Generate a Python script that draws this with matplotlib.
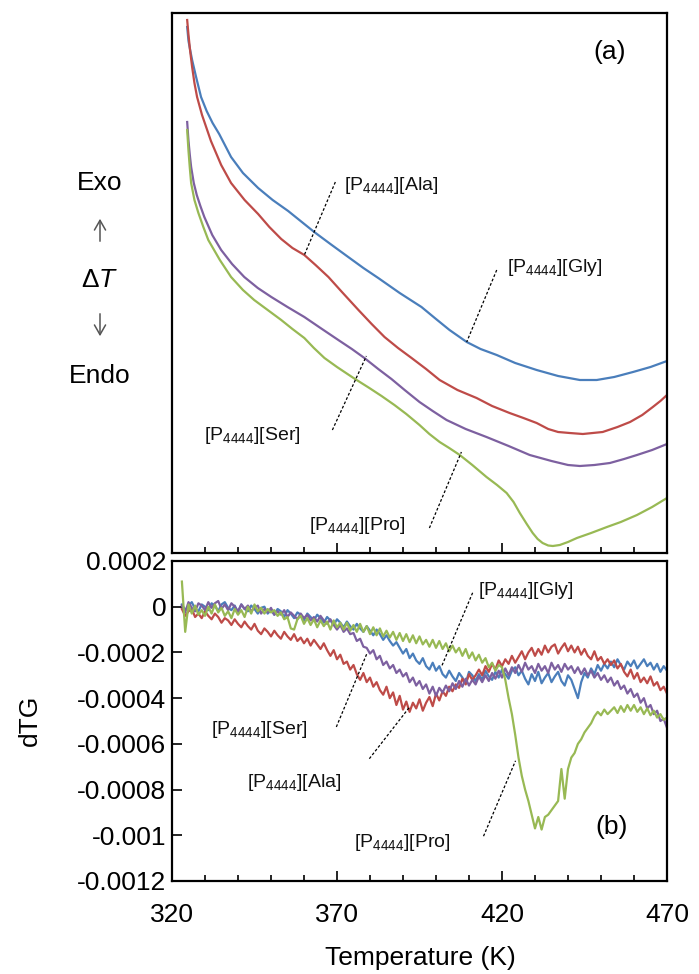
import numpy as np
import matplotlib
matplotlib.use("Agg")
import matplotlib.pyplot as plt
from matplotlib.patches import FancyArrowPatch

plt.rcParams['font.family'] = ['Liberation Sans', 'DejaVu Sans']
plt.rcParams['mathtext.fontset'] = 'custom'
plt.rcParams['mathtext.rm'] = 'Liberation Sans'
plt.rcParams['mathtext.it'] = 'Liberation Sans:italic'
plt.rcParams['mathtext.bf'] = 'Liberation Sans:bold'

# ---- (a) DTA curves, arbitrary delta-T units ----
t_gly_a = [324.6, 325.0, 325.5, 326.1, 327.3, 328.8, 330.5, 332.3, 334.3, 337.9, 341.5, 346.1,
           350.5, 355.2, 363.1, 368.0, 373.4, 378.0, 382.5, 389.0, 395.6, 400.0, 404.1, 409.3,
           413.5, 418.4, 424.0, 430.5, 437.0, 443.6, 448.7, 454.0, 459.7, 465.0, 470.0]
v_gly_a = [52.6, 51.2, 50.3, 49.3, 47.6, 45.6, 44.2, 43.0, 41.9, 39.6, 38.0, 36.5,
           35.3, 34.2, 32.1, 30.9, 29.6, 28.5, 27.5, 26.0, 24.6, 23.4, 22.3, 21.1,
           20.4, 19.8, 19.0, 18.3, 17.7, 17.3, 17.3, 17.6, 18.1, 18.6, 19.2]

t_ala_a = [324.6, 325.0, 325.5, 326.1, 326.8, 327.6, 329.1, 331.8, 334.9, 337.9, 342.0, 346.1,
           349.5, 353.1, 356.5, 360.1, 363.5, 367.4, 371.5, 376.5, 380.5, 384.4, 388.5, 392.6,
           397.0, 401.1, 406.5, 412.3, 417.0, 422.3, 426.5, 430.5, 434.0, 437.0, 440.5, 444.5,
           447.5, 450.5, 455.0, 458.8, 462.5, 465.7, 468.0, 470.0]
v_ala_a = [53.3, 51.8, 50.2, 48.6, 47.0, 45.6, 43.8, 41.2, 38.8, 37.0, 35.3, 33.9,
           32.6, 31.4, 30.5, 29.8, 28.8, 27.6, 26.1, 24.3, 22.9, 21.6, 20.5, 19.5,
           18.4, 17.3, 16.3, 15.5, 14.7, 14.0, 13.5, 13.0, 12.4, 12.1, 12.0, 11.9,
           12.0, 12.1, 12.6, 13.1, 13.8, 14.6, 15.2, 15.8]

t_ser_a = [324.6, 325.0, 325.4, 325.8, 326.6, 327.5, 328.6, 329.8, 332.2, 334.9, 338.2, 341.9,
           346.0, 350.1, 355.0, 360.1, 365.0, 370.4, 374.5, 378.3, 382.5, 386.5, 390.5, 395.0,
           399.0, 403.2, 409.0, 415.3, 422.0, 428.4, 435.0, 440.0, 443.6, 448.0, 452.7, 457.0,
           460.9, 465.5, 470.0]
v_ser_a = [43.1, 41.2, 39.8, 38.6, 37.0, 35.8, 34.7, 33.6, 31.8, 30.3, 28.9, 27.6,
           26.5, 25.6, 24.6, 23.6, 22.5, 21.3, 20.4, 19.5, 18.4, 17.4, 16.3, 15.1,
           14.2, 13.3, 12.4, 11.6, 10.7, 9.8, 9.2, 8.8, 8.7, 8.8, 9.0, 9.4,
           9.8, 10.3, 10.9]

t_pro_a = [324.6, 325.0, 325.4, 325.8, 326.8, 328.0, 329.5, 331.0, 334.5, 337.9, 341.5, 344.9,
           349.0, 353.1, 356.5, 360.1, 363.0, 366.2, 370.0, 375.0, 379.8, 383.5, 387.4, 391.0,
           395.0, 398.0, 401.1, 404.0, 407.2, 411.0, 415.3, 418.5, 421.4, 423.5, 425.4, 427.5,
           429.3, 430.8, 432.3, 434.0, 435.4, 437.5, 440.0, 442.7, 447.0, 451.8, 456.0, 460.9,
           465.5, 470.0]
v_pro_a = [42.3, 40.2, 38.5, 37.0, 35.3, 34.0, 32.6, 31.3, 29.3, 27.6, 26.3, 25.3,
           24.3, 23.3, 22.4, 21.5, 20.5, 19.5, 18.6, 17.5, 16.5, 15.7, 14.8, 13.9,
           12.8, 11.9, 11.1, 10.5, 9.8, 8.8, 7.6, 6.8, 6.0, 5.1, 4.0, 2.9,
           2.0, 1.4, 1.0, 0.75, 0.7, 0.8, 1.1, 1.5, 2.0, 2.6, 3.1, 3.8,
           4.6, 5.5]

# ---- (b) dTG curves, in units of 1e-4, one value per kelvin from 323 K ----
t_b = np.arange(323, 471)

dtg_gly = [0.1, -0.15, 0.05, 0.2, -0.1, -0.2, 0.1, 0.0, -0.15, 0.15,
           0.05, -0.2, 0.1, 0.2, -0.05, -0.15, 0.05, -0.25, 0.1, -0.1,
           -0.2, 0.05, -0.1, -0.3, -0.05, 0.0, -0.3, -0.15, -0.35, -0.1,
           -0.2, -0.45, -0.15, -0.3, -0.5, -0.25, -0.35, -0.6, -0.3, -0.45,
           -0.6, -0.35, -0.5, -0.7, -0.45, -0.6, -0.8, -0.55, -0.7, -0.9,
           -0.65, -0.85, -1.0, -0.75, -0.95, -1.1, -0.85, -1.05, -1.25, -1.0,
           -1.2, -1.45, -1.25, -1.5, -1.7, -1.55, -1.8, -2.05, -1.85, -2.25,
           -2.05, -2.35, -2.5, -2.25, -2.6, -2.75, -2.45, -2.8, -2.6, -2.95,
           -3.1, -2.8, -3.05, -3.25, -2.9, -3.1, -3.35, -2.85, -3.0, -3.25,
           -2.95, -3.2, -2.8, -3.05, -3.2, -2.85, -3.1, -2.75, -2.95, -3.15,
           -2.8, -2.65, -3.0, -2.8, -3.15, -3.4, -2.95, -3.25, -2.85, -3.35,
           -3.1, -2.9, -3.3, -3.05, -2.85, -3.25, -3.45, -3.0, -3.2, -3.6,
           -4.0, -3.3, -2.9, -3.1, -2.7, -2.95, -2.55, -2.8, -2.5, -2.7,
           -2.4, -2.65, -2.3, -2.55, -2.75, -2.4, -2.6, -2.35, -2.7, -2.5,
           -2.3, -2.6, -2.45, -2.75, -2.5, -2.85, -2.6, -2.8]

dtg_ala = [-0.1, -0.4, -0.2, -0.1, -0.45, -0.3, -0.5, -0.2, -0.4, -0.55,
           -0.3, -0.45, -0.7, -0.5, -0.6, -0.8, -0.55, -0.75, -0.9, -0.65,
           -0.85, -1.0, -0.75, -1.05, -1.2, -0.95, -1.1, -1.3, -1.05, -1.25,
           -1.4, -1.1, -1.3, -1.45, -1.2, -1.5, -1.35, -1.6, -1.4, -1.7,
           -1.45, -1.65, -1.85, -1.6, -1.9, -2.15, -1.9, -2.3, -2.1, -2.5,
           -2.4, -2.75, -2.55, -2.95, -3.2, -2.9, -3.3, -3.1, -3.5, -3.3,
           -3.65, -3.85, -3.5, -4.0, -3.75, -4.3, -3.9, -4.5, -4.15, -4.6,
           -4.2, -4.45, -4.05, -4.55, -4.2, -3.95, -4.35, -3.8, -4.1, -3.7,
           -3.9, -3.5, -3.7, -3.4, -3.55, -3.15, -3.4, -2.95, -3.2, -3.0,
           -2.75, -3.0, -2.6, -2.85, -2.5, -2.75, -2.35, -2.6, -2.3, -2.5,
           -2.15, -2.45, -2.2, -1.95, -2.3, -2.0, -1.8, -2.15, -1.85, -2.1,
           -1.7, -2.0, -1.75, -1.65, -2.05, -1.8, -1.6, -1.95, -1.7, -2.0,
           -1.75, -2.1, -1.85, -2.15, -2.3, -1.95, -2.35, -2.2, -2.5, -2.3,
           -2.55, -2.35, -2.7, -2.5, -2.85, -3.05, -2.75, -3.15, -2.9, -3.3,
           -3.1, -3.35, -3.05, -3.45, -3.3, -3.65, -3.5, -3.8]

dtg_ser = [0.05, -0.25, 0.2, -0.05, -0.2, 0.15, 0.05, -0.15, 0.2, -0.05,
           0.15, 0.25, -0.1, 0.1, -0.15, 0.15, 0.0, -0.2, 0.1, -0.1,
           0.05, -0.2, -0.05, 0.05, -0.3, -0.1, -0.25, -0.05, -0.35, -0.2,
           -0.35, -0.15, -0.45, -0.25, -0.4, -0.55, -0.3, -0.5, -0.35, -0.6,
           -0.45, -0.65, -0.4, -0.6, -0.75, -0.55, -0.8, -1.0, -0.8, -1.1,
           -0.95, -1.2, -1.15, -1.5, -1.4, -1.75, -1.8, -2.05, -1.9, -2.3,
           -2.15, -2.55, -2.4, -2.7, -2.55, -2.9, -2.75, -3.05, -2.9, -3.3,
           -3.1, -3.45, -3.25, -3.6, -3.4, -3.8, -3.5, -3.9, -3.55, -3.75,
           -3.45, -3.7, -3.35, -3.6, -3.25, -3.5, -3.15, -3.45, -3.2, -3.4,
           -3.05, -3.3, -3.0, -3.25, -2.9, -3.15, -2.8, -3.1, -2.7, -3.0,
           -2.65, -2.9, -2.55, -2.85, -2.45, -2.75, -2.6, -2.9, -2.5, -2.8,
           -2.6, -2.9, -2.45, -2.75, -2.55, -2.85, -2.5, -2.75, -2.6, -2.9,
           -2.65, -2.95, -2.7, -3.0, -2.8, -3.1, -2.9, -3.2, -3.0, -3.3,
           -3.1, -3.45, -3.25, -3.6, -3.45, -3.8, -3.6, -3.95, -3.8, -4.2,
           -4.0, -4.45, -4.3, -4.7, -4.55, -5.0, -4.9, -5.3]

dtg_pro = [1.1, -1.1, 0.1, -0.3, 0.05, -0.35, -0.15, -0.4, 0.0, -0.3,
           0.1, -0.25, -0.05, -0.4, -0.2, -0.5, -0.1, -0.35, -0.15, -0.45,
           0.0, -0.3, 0.1, -0.2, -0.05, -0.3, -0.1, -0.25, -0.15, -0.4,
           -0.25, -0.55, -0.45, -0.95, -1.0, -0.55, -0.4, -0.75, -0.5, -0.8,
           -0.55, -0.9, -0.6, -0.85, -0.65, -1.0, -0.6, -0.9, -0.7, -1.0,
           -0.7, -1.05, -0.8, -1.1, -0.75, -1.1, -0.85, -1.2, -0.9, -1.25,
           -0.95, -1.3, -1.05, -1.35, -1.1, -1.45, -1.15, -1.5, -1.2, -1.55,
           -1.25, -1.6, -1.3, -1.65, -1.45, -1.75, -1.45, -1.8, -1.5, -1.85,
           -1.6, -1.95, -1.7, -2.0, -1.8, -2.15, -1.85, -2.25, -2.0, -2.35,
           -2.1, -2.45, -2.25, -2.65, -2.45, -2.8, -2.55, -2.65, -3.2, -4.0,
           -4.7, -5.6, -6.6, -7.4, -8.0, -8.5, -9.1, -9.7, -9.2, -9.75,
           -9.2, -9.1, -8.9, -8.7, -8.5, -7.1, -8.4, -7.1, -6.6, -6.4,
           -6.0, -5.8, -5.5, -5.3, -5.1, -4.8, -4.6, -4.75, -4.5, -4.7,
           -4.55, -4.4, -4.65, -4.35, -4.6, -4.3, -4.55, -4.3, -4.6, -4.4,
           -4.7, -4.45, -4.75, -4.55, -4.85, -4.7, -4.95, -4.85]

c_gly = '#4a7ebb'
c_ala = '#be4b48'
c_ser = '#7d60a0'
c_pro = '#98b954'

fig = plt.figure(figsize=(6.99, 9.74), dpi=100)
W, H = 699.0, 974.0
ax1 = fig.add_axes([172 / W, 1 - 553 / H, 495 / W, 540 / H])
ax2 = fig.add_axes([172 / W, 1 - 881 / H, 495 / W, 320 / H])

for ax in (ax1, ax2):
    ax.set_xlim(320, 470)
    ax.set_xticks([320, 370, 420, 470])
    ax.set_xticks(np.arange(320, 471, 10), minor=True)
    ax.tick_params(axis='x', which='major', direction='in', length=7, width=1.2)
    ax.tick_params(axis='x', which='minor', direction='in', length=4.5, width=1.2)
    for s in ax.spines.values():
        s.set_linewidth(1.6)

# (a)
lw_a = 1.6
ax1.plot(t_gly_a, v_gly_a, color=c_gly, lw=lw_a)
ax1.plot(t_ser_a, v_ser_a, color=c_ser, lw=lw_a)
ax1.plot(t_pro_a, v_pro_a, color=c_pro, lw=lw_a)
ax1.plot(t_ala_a, v_ala_a, color=c_ala, lw=lw_a)
ax1.set_ylim(0, 54)
ax1.set_yticks([])
ax1.tick_params(axis='x', labelbottom=False)
ax1.text(610 / W, 1 - 52 / H, '(a)', transform=fig.transFigure, fontsize=19,
         ha='center', va='center')

# (b)
lw_b = 1.6
ax2.plot(t_b, np.array(dtg_gly) * 1e-4, color=c_gly, lw=lw_b)
ax2.plot(t_b, np.array(dtg_ala) * 1e-4, color=c_ala, lw=lw_b)
ax2.plot(t_b, np.array(dtg_ser) * 1e-4, color=c_ser, lw=lw_b)
ax2.plot(t_b, np.array(dtg_pro) * 1e-4, color=c_pro, lw=lw_b)
ax2.set_ylim(-0.0012, 0.0002)
yt = [0.0002, 0, -0.0002, -0.0004, -0.0006, -0.0008, -0.001, -0.0012]
ax2.set_yticks(yt, ['0.0002', '0', '-0.0002', '-0.0004', '-0.0006', '-0.0008',
                    '-0.001', '-0.0012'])
ax2.tick_params(axis='y', direction='in', length=7, width=1.2, labelsize=19, pad=4)
ax2.tick_params(axis='x', which='major', labelsize=19, pad=16)
ax2.text(612 / W, 1 - 827 / H, '(b)', transform=fig.transFigure, fontsize=19,
         ha='center', va='center')

# labels with dotted leaders: (axes, text x, text y, name, leader from, leader to)
notes = [
    (ax1, 372.2, 36.8, 'Ala', (369.5, 37.1), (360.1, 29.8)),
    (ax1, 421.4, 28.6, 'Gly', (418.4, 28.3), (409.3, 21.1)),
    (ax1, 329.7, 11.8, 'Ser', (368.6, 12.3), (378.9, 19.7)),
    (ax1, 361.6, 2.8, 'Pro', (398.0, 2.5), (407.7, 10.1)),
    (ax2, 412.6, 0.70e-4, 'Gly', (411.1, 0.61e-4), (401.7, -2.61e-4)),
    (ax2, 331.8, -5.35e-4, 'Ser', (369.8, -5.26e-4), (379.2, -2.0e-4)),
    (ax2, 342.8, -7.7e-4, 'Ala', (379.8, -6.65e-4), (392.0, -4.39e-4)),
    (ax2, 375.3, -10.3e-4, 'Pro', (414.4, -10.04e-4), (424.1, -6.74e-4)),
]
for ax, tx, ty, name, p0, p1 in notes:
    ax.text(tx, ty, r'[P$_{\mathrm{4444}}$][' + name + ']', fontsize=14,
            ha='left', va='center', color='#111111')
    ax.plot([p0[0], p1[0]], [p0[1], p1[1]], color='black', lw=0.9,
            linestyle=(0, (2.2, 1.6)))

# axis titles
fig.text(420 / W, 1 - 958 / H, 'Temperature (K)', fontsize=19, ha='center', va='center')
fig.text(30 / W, 1 - 720 / H, 'dTG', fontsize=19, rotation=90, ha='center', va='center')

# exo / endo scale note
fig.text(100 / W, 1 - 183 / H, 'Exo', fontsize=19, ha='center', va='center')
fig.text(100 / W, 1 - 280 / H, r'$\Delta T$', fontsize=19, ha='center', va='center')
fig.text(100 / W, 1 - 376 / H, 'Endo', fontsize=19, ha='center', va='center')
arrow_kw = dict(arrowstyle='->,head_length=0.35,head_width=0.2', mutation_scale=20,
                color='#555555', lw=1.1, transform=fig.transFigure)
fig.add_artist(FancyArrowPatch((100 / W, 1 - 244 / H), (100 / W, 1 - 216 / H), **arrow_kw))
fig.add_artist(FancyArrowPatch((100 / W, 1 - 311 / H), (100 / W, 1 - 339 / H), **arrow_kw))

fig.savefig('out.png', dpi=100)
